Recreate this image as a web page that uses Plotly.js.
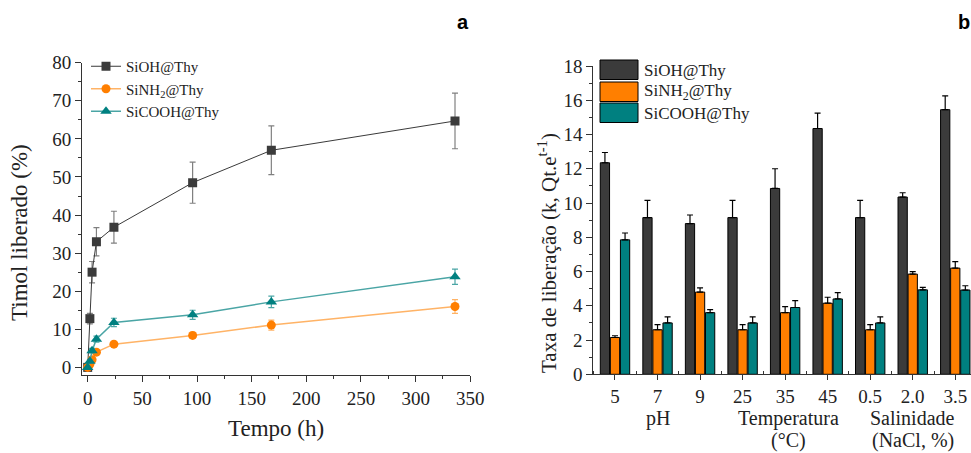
<!DOCTYPE html>
<html>
<head>
<meta charset="utf-8">
<script src="https://cdn.plot.ly/plotly-3.0.1.min.js"></script>
<style>
html,body{margin:0;padding:0;background:#fff;overflow:hidden;}
#chart{width:971px;height:453px;}
</style>
</head>
<body>
<div id="chart"></div>
<script>
// ---------- Panel a: release kinetics ----------
const tHours = [0, 2, 4, 8, 24, 96, 168, 336];
const siohRel = [0, 12.8, 25.0, 33.0, 36.8, 48.5, 57.0, 64.7];
const siohErr = [0, 1.4, 2.8, 3.7, 4.2, 5.4, 6.4, 7.3];
const sinh2Rel = [0, 0.8, 2.0, 4.0, 6.1, 8.4, 11.1, 16.0];
const sinh2Err = [0, 0.3, 0.4, 0.5, 0.6, 0.8, 1.3, 1.8];
const sicoohRel = [0, 1.6, 4.4, 7.4, 11.8, 13.8, 17.2, 23.8];
const sicoohErr = [0, 0.4, 0.6, 0.8, 1.1, 1.2, 1.5, 2.0];

// ---------- Panel b: release rate ----------
const condLabels = ["5", "7", "9", "25", "35", "45", "0.5", "2.0", "3.5"];
const condIndex = [0, 1, 2, 3, 4, 5, 6, 7, 8];
const kSiOH = [12.35, 9.15, 8.8, 9.15, 10.85, 14.35, 9.15, 10.35, 15.45];
const kSiOHErr = [0.6, 1.0, 0.5, 1.0, 1.15, 0.9, 1.0, 0.25, 0.8];
const kSiNH2 = [2.15, 2.6, 4.8, 2.6, 3.6, 4.15, 2.6, 5.85, 6.2];
const kSiNH2Err = [0.1, 0.3, 0.25, 0.3, 0.35, 0.35, 0.3, 0.15, 0.38];
const kSiCOOH = [7.85, 3.0, 3.6, 3.0, 3.9, 4.4, 3.0, 4.93, 4.92];
const kSiCOOHErr = [0.4, 0.35, 0.18, 0.35, 0.4, 0.37, 0.35, 0.15, 0.25];
const groupNames = ["pH", "Temperatura", "Salinidade"];
const groupUnits = ["", "(°C)", "(NaCl, %)"];
const groupAt = [1, 4, 7];
const seriesNames = ["SiOH@Thy", "SiNH<sub>2</sub>@Thy", "SiCOOH@Thy"];

const W = 971, H = 453;
const px = v => v / W, py = v => (H - v) / H;
const serif = "Liberation Serif";
const cDark = "#3b3b3b", cOrange = "#ff7f00", cTeal = "#008080";
const zeros = condIndex.map(() => 0);

const traces = [
  {x: tHours, y: siohRel, name: seriesNames[0], type: "scatter", mode: "lines+markers",
   xaxis: "x", yaxis: "y",
   line: {color: "#3a3a3a", width: 1}, marker: {symbol: "square", size: 9, color: cDark},
   error_y: {type: "data", array: siohErr, color: "#808080", thickness: 1.2, width: 3}},
  {x: tHours, y: sinh2Rel, name: seriesNames[1], type: "scatter", mode: "lines+markers",
   xaxis: "x", yaxis: "y",
   line: {color: "#ffb366", width: 1.5}, marker: {symbol: "circle", size: 9, color: cOrange},
   error_y: {type: "data", array: sinh2Err, color: "#ffb366", thickness: 1.2, width: 3}},
  {x: tHours, y: sicoohRel, name: seriesNames[2], type: "scatter", mode: "lines+markers",
   xaxis: "x", yaxis: "y",
   line: {color: "#4aa5a5", width: 1.5}, marker: {symbol: "triangle-up", size: 10, color: cTeal},
   error_y: {type: "data", array: sicoohErr, color: "#4aa5a5", thickness: 1.2, width: 3}},
  {x: condIndex, y: kSiOH, name: seriesNames[0], type: "bar", xaxis: "x2", yaxis: "y2", showlegend: false,
   marker: {color: cDark, line: {color: "#000", width: 1}},
   error_y: {type: "data", symmetric: false, array: kSiOHErr, arrayminus: zeros, color: "#000", thickness: 1.2, width: 3}},
  {x: condIndex, y: kSiNH2, name: seriesNames[1], type: "bar", xaxis: "x2", yaxis: "y2", showlegend: false,
   marker: {color: cOrange, line: {color: "#000", width: 1}},
   error_y: {type: "data", symmetric: false, array: kSiNH2Err, arrayminus: zeros, color: "#000", thickness: 1.2, width: 3}},
  {x: condIndex, y: kSiCOOH, name: seriesNames[2], type: "bar", xaxis: "x2", yaxis: "y2", showlegend: false,
   marker: {color: cTeal, line: {color: "#000", width: 1}},
   error_y: {type: "data", symmetric: false, array: kSiCOOHErr, arrayminus: zeros, color: "#000", thickness: 1.2, width: 3}}
];

const axisCommon = {showline: true, linecolor: "#333", linewidth: 1, zeroline: false, showgrid: false,
  ticks: "outside", ticklen: 6, tickcolor: "#333"};
const tickFont = () => ({family: serif, size: 19, color: "#222"});

const legendColors = [cDark, cOrange, cTeal];
const legendTop = [60, 82, 103];
const shapes = [], annotations = [];
legendColors.forEach((c, i) => {
  shapes.push({type: "rect", xref: "paper", yref: "paper", x0: px(600), x1: px(638),
    y0: py(legendTop[i] + 19.5), y1: py(legendTop[i]), fillcolor: c, line: {color: "#000", width: 1}});
  annotations.push({xref: "paper", yref: "paper", x: px(642), y: py(legendTop[i] + 10), xanchor: "left", yanchor: "middle",
    text: seriesNames[i], showarrow: false, font: {family: serif, size: 17, color: "#222"}});
});
groupNames.forEach((g, i) => {
  const dx = i === 1 ? 0.08 : 0;
  annotations.push({xref: "x2", yref: "paper", x: groupAt[i] + dx, y: py(418),
    xanchor: "center", yanchor: "middle", text: g, showarrow: false,
    font: {family: serif, size: 20, color: "#222"}});
  if (groupUnits[i]) {
    annotations.push({xref: "x2", yref: "paper", x: groupAt[i] + dx, y: py(440),
      xanchor: "center", yanchor: "middle", text: groupUnits[i], showarrow: false,
      font: {family: serif, size: 20, color: "#222"}});
  }
});
// axis titles
annotations.push({xref: "paper", yref: "paper", x: px(20), y: py(233), text: "Timol liberado (%)", textangle: -90,
  showarrow: false, xanchor: "center", yanchor: "middle", font: {family: serif, size: 23, color: "#222"}});
annotations.push({xref: "paper", yref: "paper", x: px(548), y: py(253), text: "Taxa de liberação (k, Qt.e<sup>t-1</sup>)", textangle: -90,
  showarrow: false, xanchor: "center", yanchor: "middle", font: {family: serif, size: 21, color: "#222"}});
annotations.push({xref: "paper", yref: "paper", x: px(463), y: py(22), text: "<b>a</b>", showarrow: false,
  xanchor: "center", yanchor: "middle", font: {family: "Liberation Sans", size: 20, color: "#000"}});
annotations.push({xref: "paper", yref: "paper", x: px(956), y: py(22), text: "<b>b</b>", showarrow: false,
  xanchor: "left", yanchor: "middle", font: {family: "Liberation Sans", size: 20, color: "#000"}});

const layout = {
  width: W, height: H, margin: {l: 0, r: 0, t: 0, b: 0},
  font: {family: serif, color: "#222"},
  paper_bgcolor: "#fff", plot_bgcolor: "#fff",
  barmode: "group", bargap: 0.29, bargroupgap: 0.08,
  xaxis: Object.assign({}, axisCommon, {domain: [px(82), px(470.3)], range: [-5.2, 350], anchor: "y",
    tickfont: tickFont(), tickvals: [0, 50, 100, 150, 200, 250, 300, 350],
    minor: {ticks: "outside", ticklen: 3, dtick: 25, tick0: 0, tickcolor: "#333"},
    title: {text: "Tempo (h)", font: {family: serif, size: 23, color: "#222"}, standoff: 12}}),
  yaxis: Object.assign({}, axisCommon, {domain: [py(375), py(62.7)], range: [-2, 80], anchor: "x",
    tickfont: tickFont(), tickvals: [0, 10, 20, 30, 40, 50, 60, 70, 80],
    minor: {ticks: "outside", ticklen: 3, dtick: 5, tick0: 0, tickcolor: "#333"}}),
  xaxis2: Object.assign({}, axisCommon, {domain: [px(593.3), 1], range: [-0.51, 8.37], anchor: "y2",
    tickfont: tickFont(), tickmode: "array", tickvals: condIndex, ticktext: condLabels, ticklen: 5,
    minor: {ticks: "inside", ticklen: 3, dtick: 1, tick0: 0.5, tickcolor: "#333"}}),
  yaxis2: Object.assign({}, axisCommon, {domain: [py(374.3), py(66)], range: [0, 18], anchor: "x2",
    tickfont: tickFont(), tickvals: [0, 2, 4, 6, 8, 10, 12, 14, 16, 18],
    minor: {ticks: "outside", ticklen: 3, dtick: 1, tick0: 0, tickcolor: "#333"}}),
  showlegend: true,
  legend: {x: px(86), y: py(50), xanchor: "left", yanchor: "top", bgcolor: "rgba(0,0,0,0)",
    font: {family: serif, size: 15, color: "#222"}, tracegroupgap: 0, itemwidth: 30},
  shapes: shapes, annotations: annotations
};

Plotly.newPlot("chart", traces, layout, {displayModeBar: false, staticPlot: true});
</script>
</body>
</html>
